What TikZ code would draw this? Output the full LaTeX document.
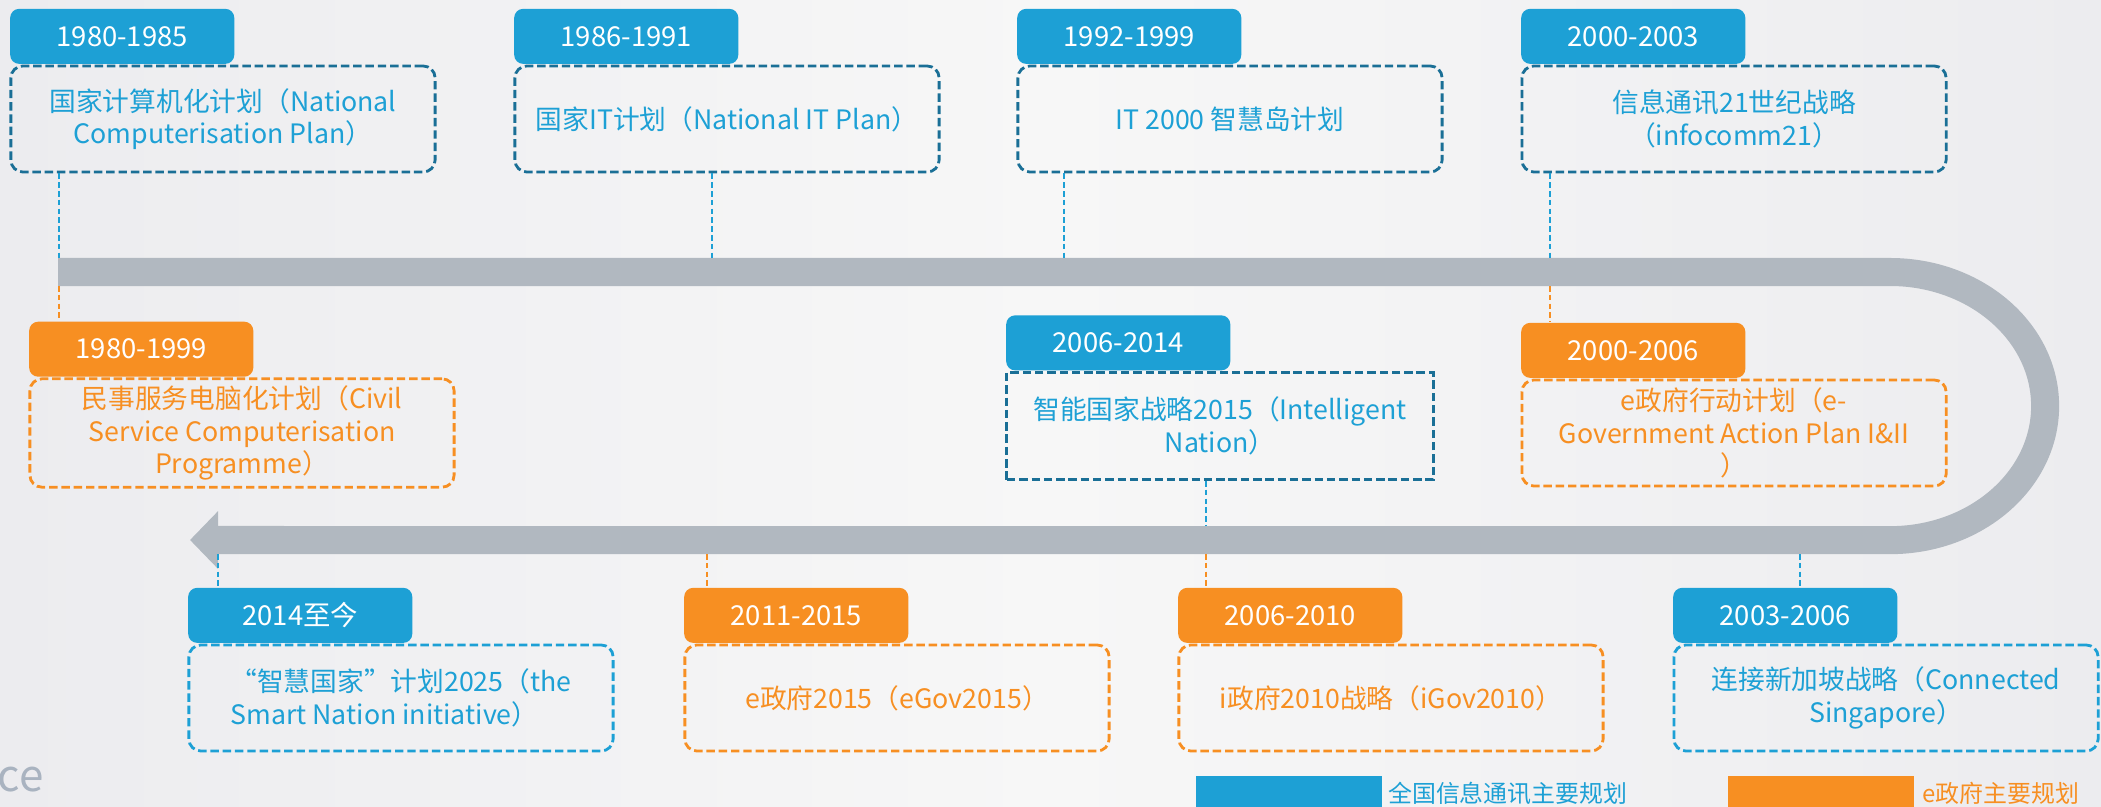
\documentclass[tikz,border=0pt]{standalone}
\usepackage{fontspec}
\setmainfont{Noto Sans CJK SC}
\usepackage{xcolor}
\definecolor{sgblue}{HTML}{1DA0D5}
\definecolor{sgteal}{HTML}{1A6F96}
\definecolor{sgorange}{HTML}{F78F22}
\definecolor{sggray}{HTML}{B1B8C0}
\definecolor{sgsrc}{HTML}{A9B3C0}
\definecolor{bgmid}{HTML}{F7F7F7}
\definecolor{bgside}{HTML}{ECECEF}
\usepackage{tikz}
\usetikzlibrary{arrows.meta, positioning}

\begin{document}
\begin{tikzpicture}[
  x=0.01cm, y=-0.01cm,
  hdr/.style={rectangle, rounded corners=0.09cm, inner sep=0pt,
              minimum width=2.24cm, minimum height=0.55cm,
              text=white, font=\fontsize{7.8}{9}\selectfont},
  hdrit/.style={hdr, fill=sgblue},
  hdreg/.style={hdr, fill=sgorange},
  plan/.style={rectangle, rounded corners=0.12cm, inner sep=2pt,
               minimum width=4.24cm, minimum height=1.06cm,
               line width=0.8pt, dash pattern=on 2.4pt off 1.1pt,
               align=center, font=\fontsize{7.6}{9.2}\selectfont},
  planit/.style={plan, draw=sgteal, text=sgblue},
  plansg/.style={plan, draw=sgblue, text=sgblue},
  planeg/.style={plan, draw=sgorange, text=sgorange},
  link/.style={line width=0.5pt, dash pattern=on 1.6pt off 0.9pt},
  bar/.style={line width=0.28cm, draw=sggray,
              -{Triangle[length=0.28cm, width=0.56cm]}},
  leg/.style={rectangle, inner sep=0pt, minimum width=1.86cm,
              minimum height=0.36cm},
  legtext/.style={inner sep=0pt, font=\fontsize{6.8}{8}\selectfont}
]
  \useasboundingbox (0,0) rectangle (2101,807);
  \shade[left color=bgside, right color=bgside, middle color=bgmid]
    (0,0) rectangle (2101,807);

  \draw[bar] (58,272) -- (1890,272)
    arc[start angle=90, end angle=-90, x radius=1.55cm, y radius=1.34cm]
    -- (190,540);

  \coordinate (k1) at (59,258);
  \coordinate (k1o) at (59,286);
  \coordinate (k2) at (712,258);
  \coordinate (k3) at (1064,258);
  \coordinate (k4) at (1550,258);
  \coordinate (k4o) at (1550,286);
  \coordinate (k6) at (1206,526);
  \coordinate (k8) at (218,554);
  \coordinate (k9) at (707,554);
  \coordinate (k10) at (1206,554);
  \coordinate (k11) at (1800,554);

  \node[planit] (b1) at (223,119)
    {国家计算机化计划（National\\Computerisation Plan）};
  \node[hdrit, above right=0pt and 0pt of b1.north west] (h1) {1980-1985};
  \node[planit] (b2) at (727,119) {国家IT计划（National IT Plan）};
  \node[hdrit, above right=0pt and 0pt of b2.north west] (h2) {1986-1991};
  \node[planit] (b3) at (1230,119) {IT 2000 智慧岛计划};
  \node[hdrit, above right=0pt and 0pt of b3.north west] (h3) {1992-1999};
  \node[planit] (b4) at (1734,119) {信息通讯21世纪战略\\（infocomm21）};
  \node[hdrit, above right=0pt and 0pt of b4.north west] (h4) {2000-2003};

  \node[planeg] (b5) at (242,433)
    {民事服务电脑化计划（Civil\\Service Computerisation\\Programme）};
  \node[hdreg, above right=0pt and 0pt of b5.north west] (h5) {1980-1999};
  \node[planit, rounded corners=0pt, minimum width=4.26cm,
        minimum height=1.07cm] (b6) at (1220,426)
    {智能国家战略2015（Intelligent\\Nation）};
  \node[hdrit, above right=0pt and 0pt of b6.north west] (h6) {2006-2014};
  \node[planeg] (b7) at (1734,433)
    {e政府行动计划（e-\\Government Action Plan I\&II\\）};
  \node[hdreg, above right=0pt and 0pt of b7.north west] (h7) {2000-2006};

  \node[plansg, align=left] (b8) at (401,698)
    {“智慧国家”计划2025（the\\Smart Nation initiative）};
  \node[hdrit, above right=0pt and 0pt of b8.north west] (h8) {2014至今};
  \node[planeg] (b9) at (897,698) {e政府2015（eGov2015）};
  \node[hdreg, above right=0pt and 0pt of b9.north west] (h9) {2011-2015};
  \node[planeg] (b10) at (1391,698) {i政府2010战略（iGov2010）};
  \node[hdreg, above right=0pt and 0pt of b10.north west] (h10) {2006-2010};
  \node[plansg] (b11) at (1886,698)
    {连接新加坡战略（Connected\\Singapore）};
  \node[hdrit, above right=0pt and 0pt of b11.north west] (h11) {2003-2006};

  \draw[link, sgblue] (k1 |- b1.south) -- (k1);
  \draw[link, sgorange] (k1o) -- (k1o |- h5.north);
  \draw[link, sgblue] (k2 |- b2.south) -- (k2);
  \draw[link, sgblue] (k3 |- b3.south) -- (k3);
  \draw[link, sgblue] (k4 |- b4.south) -- (k4);
  \draw[link, sgorange] (k4o) -- (k4o |- h7.north);
  \draw[link, sgblue] (k6 |- b6.south) -- (k6);
  \draw[link, sgblue] (k8) -- (k8 |- h8.north);
  \draw[link, sgorange] (k9) -- (k9 |- h9.north);
  \draw[link, sgorange] (k10) -- (k10 |- h10.north);
  \draw[link, sgblue] (k11) -- (k11 |- h11.north);

  \node[leg, fill=sgblue, anchor=north west] (lgit) at (1195,775) {};
  \node[legtext, text=sgblue, right=0.05cm of lgit] (lgitt)
    {全国信息通讯主要规划};
  \node[leg, fill=sgorange, anchor=north west] (lgeg) at (1727,775) {};
  \node[legtext, text=sgorange, right=0.07cm of lgeg] (lgegt)
    {e政府主要规划};

  \node[anchor=west, inner sep=0pt, text=sgsrc,
        font=\fontsize{12.5}{14}\selectfont] (src) at (-3,780) {ce};
\end{tikzpicture}
\end{document}
